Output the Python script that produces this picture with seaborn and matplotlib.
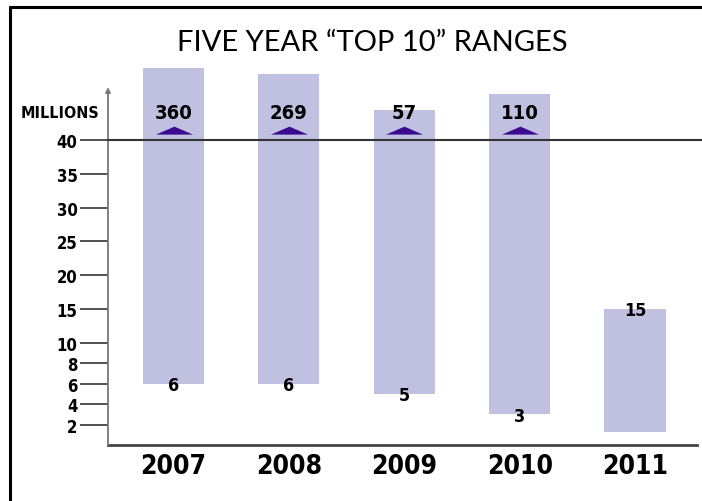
import numpy as np
import pandas as pd
import matplotlib
matplotlib.use("Agg")
import matplotlib.pyplot as plt
from matplotlib.lines import Line2D
from matplotlib.path import Path
import seaborn as sns

# ---- data ----
years = ["2007", "2008", "2009", "2010", "2011"]
low_values = [6, 6, 5, 3, 1.3]
high_values = [360, 269, 57, 110, 15]
low_labels = ["6", "6", "5", "3", ""]
y_ticks = [2, 4, 6, 8, 10, 15, 20, 25, 30, 35, 40]
faint_ticks = [2, 15, 30]
title = "FIVE YEAR \u201cTOP 10\u201d RANGES"
unit_label = "MILLIONS"
cap = 40

sns.set_theme(style="white")
plt.rcParams["font.family"] = ["DejaVu Sans"]
plt.rcParams["font.stretch"] = "condensed"

BAR = "#c0c0e1"
TRI = "#3b0a8e"
DARK = "#333333"

# piecewise scale: expanded below 10, linear 10-40, compressed above 40
A = 1.507
C = 1.89
P = 0.3


def fwd(v):
    v = np.asarray(v, dtype=float)
    lo = A * v
    mid = 10 * A + (v - 10)
    hi = 10 * A + 30 + C * np.power(np.maximum(v - 40, 0), P)
    return np.where(v <= 10, lo, np.where(v <= 40, mid, hi))


def inv(u):
    u = np.asarray(u, dtype=float)
    lo = u / A
    mid = u - 10 * A + 10
    hi = 40 + np.power(np.maximum(u - 10 * A - 30, 0) / C, 1 / P)
    return np.where(u <= 10 * A, lo, np.where(u <= 10 * A + 30, mid, hi))


df = pd.DataFrame({"year": years, "low": low_values, "high": high_values})

fig = plt.figure(figsize=(7.02, 5.02), dpi=100)
ax = fig.add_axes([108 / 702, 1 - 446 / 502, 589 / 702, 386 / 502])

sns.barplot(data=df, x="year", y="high", color=BAR, saturation=1,
            width=0.53, ax=ax, linewidth=0)
ax.set_yscale("function", functions=(fwd, inv))

# convert bars into ranges low..high
for patch, lo, hi in zip(ax.patches, df["low"], df["high"]):
    patch.set_y(lo)
    patch.set_height(hi - lo)
    patch.set_edgecolor("none")

ax.set_xlim(-0.568, 4.537)
ax.set_ylim(0, float(inv(57.0)))

# axes styling
for s in ["top", "right", "left"]:
    ax.spines[s].set_visible(False)
ax.spines["bottom"].set_color("#444444")
ax.spines["bottom"].set_linewidth(2)
ax.set_xlabel("")
ax.set_ylabel("")

ax.set_yticks(y_ticks)
ax.set_yticklabels([str(t) for t in y_ticks])
ax.yaxis.set_minor_locator(matplotlib.ticker.NullLocator())
ax.tick_params(axis="y", which="major", left=True, length=20, width=1.3,
               color="#444444", pad=2, labelsize=12, labelcolor="black",
               direction="out")
for t, tk in zip(y_ticks, ax.yaxis.get_major_ticks()):
    tk.label1.set_fontweight("bold")
    tk.label1.set_fontstretch("condensed")
    if t in faint_ticks:
        tk.tick1line.set_color("#e4e4e4")

ax.tick_params(axis="x", length=0, pad=6, labelsize=19, labelcolor="black")
for lab in ax.get_xticklabels():
    lab.set_fontweight("bold")
    lab.set_fontstretch("condensed")

# y axis with arrow
ax.annotate("", xy=(0, 0.927), xycoords="axes fraction",
            xytext=(0, 0), textcoords="axes fraction",
            arrowprops=dict(arrowstyle="-|>", color="#777777", lw=1.3,
                            mutation_scale=7, shrinkA=0, shrinkB=0))

# 40 cap line
ax.axhline(cap, xmin=0, xmax=1.01, color=DARK, lw=1.5, clip_on=False, zorder=3)

# overflow markers and labels
tri = Path([(-1, 0.32), (1, 0.32), (0, 0.75), (-1, 0.32)],
           [Path.MOVETO, Path.LINETO, Path.LINETO, Path.CLOSEPOLY])
for i, hi in enumerate(high_values):
    if hi > cap:
        ax.plot([i], [cap], marker=tri, markersize=26.6, color=TRI,
                markeredgewidth=0, linestyle="none", zorder=4)
        ax.annotate(str(hi), xy=(i, cap), xytext=(0, 20),
                    textcoords="offset points", ha="center", va="center",
                    fontsize=14.5, fontweight="bold", fontstretch="condensed",
                    color="black", zorder=5)
    else:
        ax.annotate(str(hi), xy=(i, hi), xytext=(0, -1),
                    textcoords="offset points", ha="center", va="center",
                    fontsize=13, fontweight="bold", fontstretch="condensed",
                    color="black", zorder=5)

for i, (lo, lab) in enumerate(zip(low_values, low_labels)):
    if lab:
        ax.annotate(lab, xy=(i, lo), xytext=(0, -1),
                    textcoords="offset points", ha="center", va="center",
                    fontsize=13, fontweight="bold", fontstretch="condensed",
                    color="black", zorder=5)

ax.annotate(unit_label, xy=(0, cap), xycoords=("axes fraction", "data"),
            xytext=(-6, 19.5), textcoords="offset points", ha="right",
            va="center", fontsize=11.5, fontweight="bold",
            fontstretch="condensed", color="black")

# title
fig.text(0.531, 1 - 43 / 502, title, ha="center", va="center",
         fontsize=21, family=["Lato", "DejaVu Sans"], fontweight="normal",
         fontstretch="normal", color="black")

# frame (left and top edges)
fig.add_artist(Line2D([10 / 702, 10 / 702], [0, 1 - 8 / 502],
                      transform=fig.transFigure, color="black", lw=2.2))
fig.add_artist(Line2D([10 / 702, 1], [1 - 8 / 502, 1 - 8 / 502],
                      transform=fig.transFigure, color="black", lw=2.2))

fig.savefig("out.png", dpi=100, facecolor="white")
